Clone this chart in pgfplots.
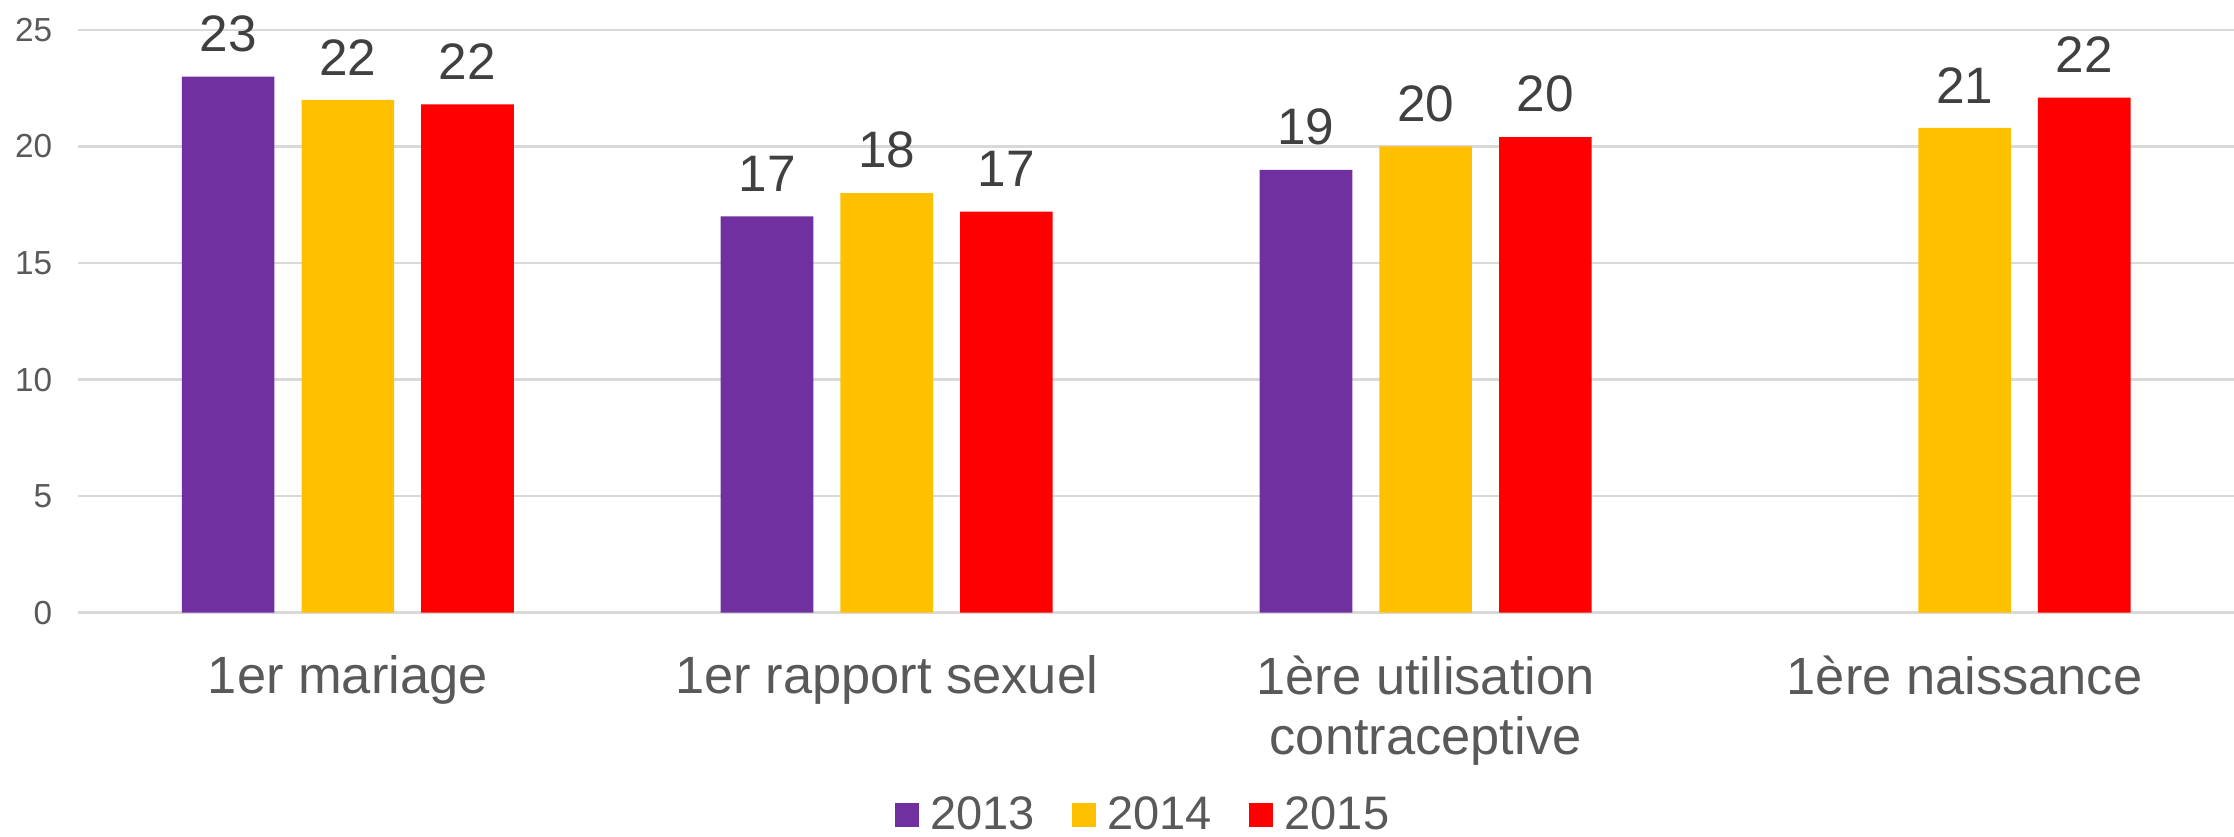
\documentclass[border=0pt]{standalone}
\usepackage{pgfplots}
\pgfplotsset{compat=1.18}
\usepackage{fontspec}
\setmainfont{Liberation Sans}
\definecolor{c2013}{HTML}{7030A0}
\definecolor{c2014}{HTML}{FFC000}
\definecolor{c2015}{HTML}{FF0000}
\definecolor{gridc}{HTML}{D9D9D9}
\definecolor{tickc}{HTML}{595959}
\definecolor{labc}{HTML}{404040}
\begin{document}
\begin{tikzpicture}
\begin{axis}[
  name=ax,
  at={(0,0)}, anchor=south west,
  scale only axis,
  width=756.5pt, height=204.5pt,
  ybar=9.5pt, bar width=32.5pt,
  xmin=-0.5, xmax=3.5,
  ymin=0, ymax=25,
  ytick={0,5,10,15,20,25},
  xtick={0,1,2,3},
  xticklabels={1er mariage,1er rapport sexuel,{1ère utilisation\\contraceptive},1ère naissance},
  ymajorgrids,
  major grid style={gridc, line width=0.8pt},
  axis line style={draw=none},
  major tick length=0pt,
  clip=false,
  /pgf/number format/assume math mode=true,
  yticklabel style={font=\fontsize{11.7}{13}\selectfont, text=tickc, inner sep=0pt, xshift=-9pt},
  xticklabel style={font=\fontsize{18.4}{21}\selectfont, text=tickc, align=center, anchor=north, inner sep=0pt, yshift=-15pt},
  nodes near coords,
  nodes near coords style={font=\fontsize{18}{21}\selectfont, text=labc, anchor=south, inner sep=0pt, yshift=8.5pt, /pgf/number format/fixed, /pgf/number format/precision=0},
  legend columns=-1,
  legend style={draw=none, at={(0.5,-0.35)}, xshift=-4pt, yshift=0.5pt, anchor=center, font=\fontsize{16.5}{19}\selectfont, text=tickc, /tikz/every even column/.append style={column sep=11pt}},
]
\addplot[fill=c2013, draw=none, legend image code/.code={\fill[c2013] (0pt,-4.25pt) rectangle (8.5pt,4.25pt); \path (10.5pt,0pt);}] coordinates {(0,23.0) (1,17.0) (2,19.0)};
\addplot[fill=c2014, draw=none, legend image code/.code={\fill[c2014] (0pt,-4.25pt) rectangle (8.5pt,4.25pt); \path (10.5pt,0pt);}] coordinates {(0,22.0) (1,18.0) (2,20.0) (3,20.8)};
\addplot[fill=c2015, draw=none, legend image code/.code={\fill[c2015] (0pt,-4.25pt) rectangle (8.5pt,4.25pt); \path (10.5pt,0pt);}] coordinates {(0,21.8) (1,17.2) (2,20.4) (3,22.1)};
\legend{2013,2014,2015}
\end{axis}
\pgfresetboundingbox
\path[use as bounding box] ([xshift=-27.5pt,yshift=-78.5pt]ax.south west) rectangle ([yshift=10.5pt]ax.north east);
\end{tikzpicture}
\end{document}
